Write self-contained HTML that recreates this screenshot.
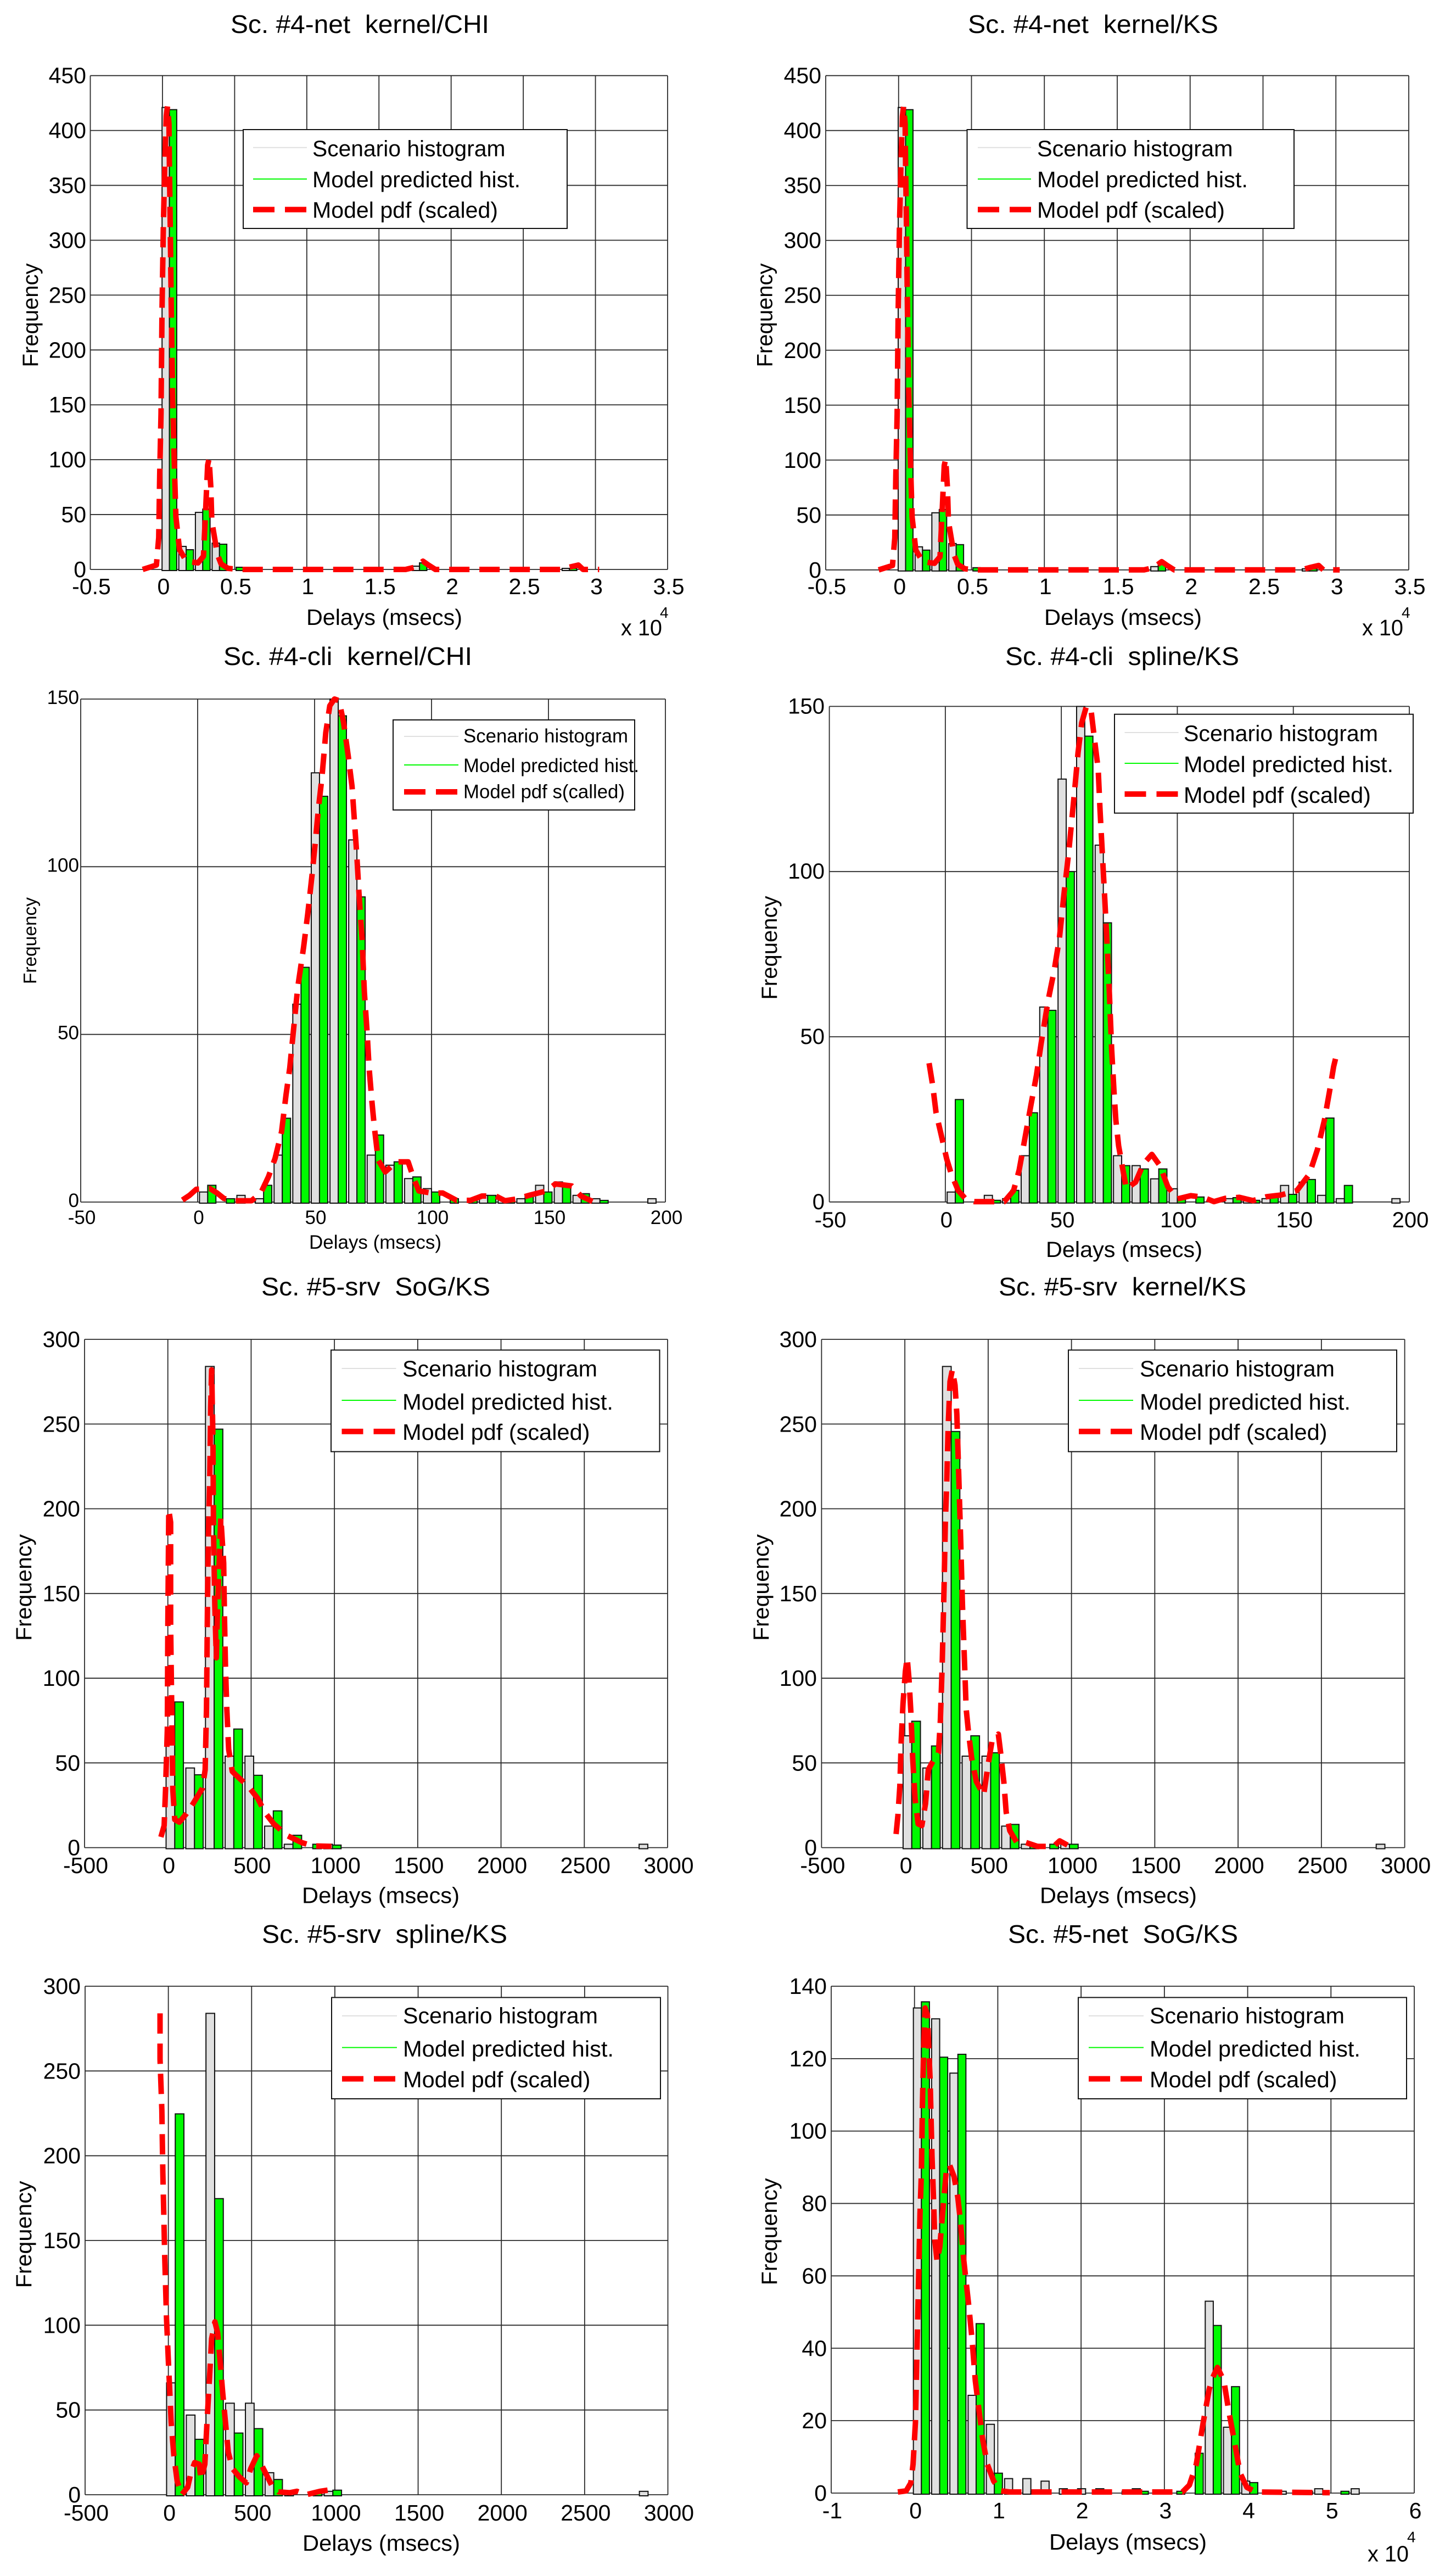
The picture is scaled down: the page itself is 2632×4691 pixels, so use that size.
<!DOCTYPE html>
<html lang="en">
<head>
<meta charset="utf-8">
<title>Delay histograms</title>
<style>
html,body{margin:0;padding:0;background:#fff}
svg{display:block}
text{font-family:"Liberation Sans",Arial,sans-serif;fill:#000;white-space:pre}
</style>
</head>
<body>
<svg id="figure" xmlns="http://www.w3.org/2000/svg" width="2632" height="4691" viewBox="0 0 2632 4691"></svg>
<script>
/* ---------- data: tick labels ---------- */
const xTicksA = [-0.5, 0, 0.5, 1, 1.5, 2, 2.5, 3, 3.5];
const yTicksA = [0, 50, 100, 150, 200, 250, 300, 350, 400, 450];
const xTicksB = [-50, 0, 50, 100, 150, 200];
const yTicksB = [0, 50, 100, 150];
const xTicksC = [-500, 0, 500, 1000, 1500, 2000, 2500, 3000];
const yTicksC = [0, 50, 100, 150, 200, 250, 300];
const xTicksD = [-1, 0, 1, 2, 3, 4, 5, 6];
const yTicksD = [0, 20, 40, 60, 80, 100, 120, 140];

/* ---------- data: panel 1 and 2, Sc. #4-net (x in units of 10^4 msecs) ---------- */
const p1Bins = [.048,.164,.279,.395,.51,.626,.741,.857,.972,1.088,1.203,1.319,1.434,1.55,1.665,1.781,1.896,2.012,2.127,2.243,2.358,2.474,2.589,2.705,2.82];
const p1Scenario = [421,21,52,24,0,0,0,0,0,0,0,0,0,0,0,3,0,0,0,0,0,0,0,0,1];
const p1Model = [419,18,55,23,2,0,0,0,0,0,0,0,0,0,0,6,0,0,0,0,0,0,0,0,1];
const p1PdfX = [-.137,-.089,-.042,-.026,-.019,-.01,-.003,.006,.016,.026,.035,.045,.048,.054,.061,.07,.08,.093,.118,.166,.246,.284,.297,.313,.323,.335,.342,.361,.38,.406,.454,.534,1.684,1.748,1.805,1.843,1.891,2.764,2.818,2.882,2.914,3.026];
const p1PdfY = [0,2,4,29,86,142,236,312,368,413,422,406,368,312,236,161,105,48,18,7.5,6,12,48,95,101,75,44,29,14,5,1,0,0,2,7.5,4,0,0,2,4,0,0];

const p2Bins = [.048,.164,.279,.395,.51,.626,.741,.857,.972,1.088,1.203,1.319,1.434,1.55,1.665,1.781,1.896,2.012,2.127,2.243,2.358,2.474,2.589,2.705,2.82];
const p2Scenario = [421,21,52,24,0,0,0,0,0,0,0,0,0,0,0,3,0,0,0,0,0,0,0,0,1];
const p2Model = [419,18,55,23,2,0,0,0,0,0,0,0,0,0,0,6,0,0,0,0,0,0,0,0,1];
const p2PdfX = [-.137,-.089,-.042,-.026,-.019,-.01,-.003,.006,.016,.026,.035,.045,.048,.054,.061,.07,.08,.093,.118,.166,.246,.284,.297,.313,.323,.335,.342,.361,.38,.406,.454,.534,1.684,1.748,1.805,1.843,1.891,2.764,2.818,2.882,2.914,3.026];
const p2PdfY = [0,2,4,29,86,142,236,312,368,413,422,406,368,312,236,161,105,48,18,7.5,6,12,48,95,101,75,44,29,14,5,1,0,0,2,7.5,4,0,0,2,4,0,0];

/* ---------- data: panel 3, Sc. #4-cli kernel/CHI ---------- */
const p3Bins = [4.3,12.3,20.3,28.2,36.2,44.2,52.1,60.1,68.1,76,84,92,100,108,116,124,132,140,148,156,164,172,180,188,196];
const p3Scenario = [3,0,2,1,14,59,128,150,108,14,11,7,4,0,0,2,1,1,5,6,2,1,0,0,1];
const p3Model = [5,1,0,5,25,70,121,145,91,20,12,7.5,3,1,.7,2,1,2,3,5,2.5,.5,0,0,0];
const p3PdfX = [-6.5,-3.5,-.6,5.3,8.3,11.2,15.2,23,27,30.3,33.1,35.9,37.8,39.4,40.8,42.8,45.3,47.1,49,50.4,51.6,53.2,54.8,56.5,58.5,60.5,62.4,64.4,66,67,68,69,70.3,71.3,72.5,73.3,74.5,75.6,77.2,80.2,85,90,92.4,94.6,99.9,104.8,110.7,116.6,121.6,127.5,131.4,136.3,142.2,149.1,153,160,163.9,168.8];
const p3PdfY = [.6,2,3.8,4,2.7,1.1,.4,.4,2.7,7.6,13,21,32,40,50,64,76,86,98,108,117,127,140,148,150,149.5,143,133,124,114,104,92,78.5,62.5,50,40,30,22,12.5,9,12,12,7,3.3,2.7,2.7,.5,.5,1.8,1.8,.4,.9,2.1,3.3,5.4,4.8,1.8,.2];

/* ---------- data: panel 4, Sc. #4-cli spline/KS ---------- */
const p4Bins = [4.3,12.3,20.3,28.2,36.2,44.2,52.1,60.1,68.1,76,84,92,100,108,116,124,132,140,148,156,164,172,180,188,196];
const p4Scenario = [3,0,2,1,14,59,128,150,108,14,11,7,4,0,0,1,1,1,5,6,2,1,0,0,1];
const p4Model = [31,0,.5,3.5,27,58,100,141,84.5,11,10,10,1.5,1.5,0,1.3,.5,2,2.3,6.8,25.4,5,0,0,0];
const p4PdfX = [-7,-5.4,-4,-2,.6,2.6,5.6,8.5,12.5,19.5,25.4,29.4,31.8,34.4,37,39.3,41.3,44.3,46.9,49.2,51.2,53.2,55.6,57.2,58.8,60.8,62.8,64.3,65.9,66.7,67.7,68.7,69.7,70.7,71.7,72.7,73.5,74.7,78,82,85.4,89,92.5,95.9,99.9,105.8,110.8,115.8,120.7,126.7,132.6,138.6,144.6,151.5,156.9,160.4,163.4,165.6,167.4,168.4];
const p4PdfY = [42,35,27,21,13,8.4,3.4,1.1,.1,.1,.1,3.4,9.6,19.6,29.7,38.4,48,61,70,80,93.5,106,123.5,136,145,150,149,140,131,118.5,105,92,78.5,63.5,46,33.4,24.7,17,4,6,11.5,14.4,11,4.6,.9,1.9,1.5,.1,1.1,1.4,.4,1.6,2.1,3.4,8.4,15.9,24.7,33.4,41,44];

/* ---------- data: panel 5, Sc. #5-srv SoG/KS ---------- */
const p5Bins = [41.5,160,278,396,515,633,751,870,988,1106,1225,1343,1461,1580,1698,1816,1935,2053,2171,2290,2408,2526,2644,2763,2881];
const p5Scenario = [66,47,284,54,54,12.7,2,0,2,0,0,0,0,0,0,0,0,0,0,0,0,0,0,0,2];
const p5Model = [86,43,247,70,42.7,21.7,7.3,2,1.5,0,0,0,0,0,0,0,0,0,0,0,0,0,0,0,0];
const p5PdfX = [-41.5,-22,-14,-3,0,5.5,16.6,16.6,25,30,41.5,69,111,152,207.5,224,232,238,243,252,257,263,271,274,282,291,299,310,318,335,340,346,354,365,387,407,484,540,581,636,719,802,871,982];
const p5PdfY = [6.3,13,34,70,131,199.5,192,131,70,34,16.6,15,20,26,35,46,82,143,180,221,260,282,241,187,143,112,143,173,195,168,136,107,82,58,45,43,36,29,21,14,7,3,1,.7];

/* ---------- data: panel 6, Sc. #5-srv kernel/KS ---------- */
const p6Bins = [41.5,160,278,396,515,633,751,870,988,1106,1225,1343,1461,1580,1698,1816,1935,2053,2171,2290,2408,2526,2644,2763,2881];
const p6Scenario = [66,47,284,54,54,12.7,2,0,2,0,0,0,0,0,0,0,0,0,0,0,0,0,0,0,2];
const p6Model = [74.6,60,245.6,66,56,13.7,2,2,2,0,0,0,0,0,0,0,0,0,0,0,0,0,0,0,0];
const p6PdfX = [-52.5,-41.5,-30,-22,-11,3,14,25,36,47,61,80,102,124,141,169,202,213,224,235,243,252,260,271,285,301,312,323,335,346,359,368,382,401,429,473,495,523,561,575,594,608,630,672,727,796,893,929,976];
const p6PdfY = [8,19,36,63,85,104,112,99.5,80,53,29,14,13,26,46,51,56,75,107,153,192,217,248,275,282,273,256,221,182,143,107,82,68,53,39,31,46,63,67,56,39,21,10,3,3,.7,.7,4,1.5];

/* ---------- data: panel 7, Sc. #5-srv spline/KS ---------- */
const p7Bins = [41.5,160,278,396,515,633,751,870,988,1106,1225,1343,1461,1580,1698,1816,1935,2053,2171,2290,2408,2526,2644,2763,2881];
const p7Scenario = [66,47,284,54,54,13,2,0,2,0,0,0,0,0,0,0,0,0,0,0,0,0,0,0,2];
const p7Model = [224.7,32.7,174.7,36.4,39,9,0,1.7,2.7,0,0,0,0,0,0,0,0,0,0,0,0,0,0,0,0];
const p7PdfX = [-50,-50,-39,-33,-22,-11,0,17,33,53,80,116,135.6,158,185,196,219,232,246,260,279.5,296,310,326.5,343,360,385,426,468,495,531,578,620,661,730,772,827,910,980];
const p7PdfY = [284,257,227,190,141,104,79.5,42.6,23,8,0,4.4,13,19,18,9,18,42.6,67,92,102,95.5,79.5,60,42.6,25,15.5,10.6,7,15.5,23,14,5.7,1.7,1.2,2,0,2,3];

/* ---------- data: panel 8, Sc. #5-net SoG/KS (x in units of 10^4 msecs) ---------- */
const p8Bins = [.083,.302,.521,.74,.959,1.178,1.397,1.616,1.835,2.054,2.273,2.492,2.711,2.93,3.149,3.37,3.587,3.806,4.025,4.244,4.463,4.682,4.901,5.12,5.339];
const p8Scenario = [134,131,116,27,19,4,4,3.3,1.2,1.2,1.2,0,1.2,0,0,0,53,18.2,3.3,0,.5,0,1.2,0,1.2];
const p8Model = [135.7,120.4,121.2,46.8,5.5,0,.5,0,.5,0,0,.5,.5,0,.5,11,46.3,29.4,2.9,.5,0,.5,0,.5,0];
const p8PdfX = [-.2,-.1,-.044,-.017,.011,.022,.033,.044,.055,.066,.083,.094,.11,.127,.155,.188,.21,.232,.243,.271,.304,.343,.381,.42,.475,.52,.553,.586,.619,.652,.691,.73,.774,.818,.873,.951,1.034,1.144,3.217,3.3,3.383,3.466,3.538,3.582,3.637,3.715,3.77,3.836,3.908,3.99,4.1,4.986];
const p8PdfY = [.3,.6,2.8,8,19.5,31,42.5,54,65.5,77,88.6,106,123,134,132,114,93,79,70,64,68,79,88.6,90.7,87.4,81.7,74.8,65.6,58.6,51.7,42.5,31,23,14.9,8,3.3,.6,.3,.3,2.2,8,19.5,28.7,32,34.7,31,23,14.9,5.6,1.6,.3,.1];

/* ---------- legend wording ---------- */
const legendStd = ['Scenario histogram', 'Model predicted hist.', 'Model pdf (scaled)'];
const legendCli = ['Scenario histogram', 'Model predicted hist.', 'Model pdf s(called)'];

/* ---------- layout (pixels), kept apart from the data ---------- */
const panels = [
 {id:'p1', title:'Sc. #4-net  kernel/CHI', bins:p1Bins, sc:p1Scenario, mo:p1Model, px:p1PdfX, py:p1PdfY, xt:xTicksA, yt:yTicksA,
  l:164.5, r:1216, t:137.7, b:1037, font:41, titleFont:46, titleX:420, titleW:471, titleY:60,
  xtY:1082, xtDx:2, ytX:157, ytDy:14, xl:[558,284,1138], yl:[69,574,189,40],
  legend:{x:443,y:236,w:590,h:180,tx:569,tw:[351.5,379,338],ty:[284.5,341,396.6],lx:[461,559],ly:[268.7,326,381.6],font:41,words:legendStd},
  exp:{x:1131,y:1157,w:75,ex:1202,ey:1125}},
 {id:'p2', title:'Sc. #4-net  kernel/KS', bins:p2Bins, sc:p2Scenario, mo:p2Model, px:p2PdfX, py:p2PdfY, xt:xTicksA, yt:yTicksA,
  l:1504, r:2566, t:137.7, b:1037.8, font:41, titleFont:46, titleX:1763, titleW:456, titleY:60,
  xtY:1082, xtDx:2, ytX:1496, ytDy:14, xl:[1902,287,1138], yl:[1406.6,574,189,40],
  legend:{x:1761.5,y:236,w:595.5,h:180,tx:1889,tw:[356.6,384,342],ty:[284.5,341,396.6],lx:[1781,1878],ly:[268.7,326,381.6],font:41,words:legendStd},
  exp:{x:2481,y:1157,w:75,ex:2553,ey:1125}},
 {id:'p3', title:'Sc. #4-cli  kernel/CHI', bins:p3Bins, sc:p3Scenario, mo:p3Model, px:p3PdfX, py:p3PdfY, xt:xTicksB, yt:yTicksB,
  l:147, r:1212, t:1273, b:2189, font:35, titleFont:46, titleX:407, titleW:453, titleY:1211,
  xtY:2229, xtDx:2, ytX:144, ytDy:9, xl:[563,241,2274], yl:[66,1713,158,33.5],
  legend:{x:716,y:1311,w:440,h:164,tx:844,tw:[300,320,294],ty:[1352,1406,1453.5],lx:[736,835],ly:[1341,1393,1442],font:35,words:legendCli}},
 {id:'p4', title:'Sc. #4-cli  spline/KS', bins:p4Bins, sc:p4Scenario, mo:p4Model, px:p4PdfX, py:p4PdfY, xt:xTicksB, yt:yTicksB,
  l:1510.6, r:2567, t:1286.4, b:2188.8, font:40, titleFont:46, titleX:1831, titleW:426, titleY:1211,
  xtY:2235, xtDx:2, ytX:1502, ytDy:13, xl:[1905,285,2289], yl:[1415,1726,189,40],
  legend:{x:2030,y:1300.7,w:544,h:180,tx:2156,tw:[354,382,341],ty:[1349.6,1406,1462],lx:[2048.5,2146.6],ly:[1334,1390,1446],font:41,words:legendStd}},
 {id:'p5', title:'Sc. #5-srv  SoG/KS', bins:p5Bins, sc:p5Scenario, mo:p5Model, px:p5PdfX, py:p5PdfY, xt:xTicksC, yt:yTicksC,
  l:154, r:1216, t:2439, b:3364.6, font:41, titleFont:46, titleX:476, titleW:417, titleY:2359,
  xtY:3411, xtDx:2, ytX:146, ytDy:14, xl:[550,287,3465.4], yl:[57,2891,194,40],
  legend:{x:603,y:2458.5,w:598.5,h:185,tx:733,tw:[355,384,341.5],ty:[2506.6,2567,2622],lx:[622.5,721.5],ly:[2492,2550,2606.7],font:41,words:legendStd}},
 {id:'p6', title:'Sc. #5-srv  kernel/KS', bins:p6Bins, sc:p6Scenario, mo:p6Model, px:p6PdfX, py:p6PdfY, xt:xTicksC, yt:yTicksC,
  l:1496.4, r:2558.6, t:2439, b:3364.6, font:41, titleFont:46, titleX:1819, titleW:451, titleY:2359,
  xtY:3411, xtDx:2, ytX:1488, ytDy:14, xl:[1894,286,3465.4], yl:[1400,2891,194,40],
  legend:{x:1946,y:2458.5,w:598,h:185,tx:2076,tw:[355,384,341.5],ty:[2506.6,2567,2622],lx:[1965,2064],ly:[2492,2550,2606.7],font:41,words:legendStd}},
 {id:'p7', title:'Sc. #5-srv  spline/KS', bins:p7Bins, sc:p7Scenario, mo:p7Model, px:p7PdfX, py:p7PdfY, xt:xTicksC, yt:yTicksC,
  l:155, r:1216.5, t:3617, b:4543, font:41, titleFont:46, titleX:477, titleW:447, titleY:3538,
  xtY:4590, xtDx:2, ytX:147, ytDy:14, xl:[551,287,4645], yl:[57,4069,195,40],
  legend:{x:604,y:3637.5,w:599,h:184.5,tx:734,tw:[355,384,341.5],ty:[3684.6,3745,3801],lx:[623,723],ly:[3671,3728.6,3785.6],font:41,words:legendStd}},
 {id:'p8', title:'Sc. #5-net  SoG/KS', bins:p8Bins, sc:p8Scenario, mo:p8Model, px:p8PdfX, py:p8PdfY, xt:xTicksD, yt:yTicksD,
  l:1514, r:2576, t:3617, b:4540, font:41, titleFont:46, titleX:1836, titleW:419, titleY:3538,
  xtY:4586, xtDx:2, ytX:1506, ytDy:14, xl:[1911,287,4643], yl:[1415,4064,195,40],
  legend:{x:1964,y:3637.5,w:598,h:184.5,tx:2094,tw:[355,384,341.5],ty:[3684.6,3745,3801],lx:[1983,2083],ly:[3671,3728.6,3785.6],font:41,words:legendStd},
  exp:{x:2491,y:4664.5,w:75,ex:2563,ey:4629.5}}
];

const NS = 'http://www.w3.org/2000/svg';
const figure = document.getElementById('figure');

function mk(tag, attrs, parent) {
  const node = document.createElementNS(NS, tag);
  for (const k in attrs) node.setAttribute(k, attrs[k]);
  parent.appendChild(node);
  return node;
}

function drawPanel(p) {
  const first = v => v[0], last = v => v[v.length - 1];
  const xMin = first(p.xt), xMax = last(p.xt), yMin = first(p.yt), yMax = last(p.yt);
  const X = v => p.l + (v - xMin) / (xMax - xMin) * (p.r - p.l);
  const Y = v => p.b - (v - yMin) / (yMax - yMin) * (p.b - p.t);

  const g = mk('g', {}, figure);
  
  

  const title = mk('text', {x:p.titleX, y:p.titleY, 'font-size':p.titleFont, textLength:p.titleW, lengthAdjust:'spacingAndGlyphs'}, g);
  title.textContent = p.title;
  
  

  p.yt.forEach(v => {
    const line = mk('line', {x1:p.l, x2:p.r, y1:Y(v), y2:Y(v), stroke:'#2a2a2a', 'stroke-width':1.8}, g);
    
    
    const label = mk('text', {x:p.ytX, y:Y(v) + p.ytDy, 'font-size':p.font, 'text-anchor':'end'}, g);
    label.textContent = String(v);
    
    
  });

  p.xt.forEach(v => {
    const line = mk('line', {x1:X(v), x2:X(v), y1:p.t, y2:p.b, stroke:'#2a2a2a', 'stroke-width':1.8}, g);
    
    
    const label = mk('text', {x:X(v) + p.xtDx, y:p.xtY, 'font-size':p.font, 'text-anchor':'middle'}, g);
    label.textContent = String(v);
    
    
  });

  const step = (p.bins[p.bins.length - 1] - p.bins[0]) / (p.bins.length - 1);
  const barW = X(xMin + step * 0.44) - X(xMin);
  p.bins.forEach((c, i) => {
    if (p.sc[i] > 0) {
      const bar = mk('rect', {x:X(c) - barW, y:Y(p.sc[i]), width:barW, height:Y(0) - Y(p.sc[i]) + 2, fill:'#e0e0e0', stroke:'#111', 'stroke-width':2}, g);
      
      
    }
    if (p.mo[i] > 0) {
      const bar = mk('rect', {x:X(c), y:Y(p.mo[i]), width:barW, height:Y(0) - Y(p.mo[i]) + 2, fill:'#00fa00', stroke:'#111', 'stroke-width':2}, g);
      
      
    }
  });

  const pts = p.px.map((v, i) => X(v).toFixed(1) + ',' + Y(p.py[i]).toFixed(1)).join(' ');
  const curve = mk('polyline', {points:pts, fill:'none', stroke:'#ff0000', 'stroke-width':10, 'stroke-dasharray':'37 18', 'stroke-linejoin':'round'}, g);
  
  

  const xl = mk('text', {x:p.xl[0], y:p.xl[2], 'font-size':p.font, textLength:p.xl[1], lengthAdjust:'spacingAndGlyphs'}, g);
  xl.textContent = 'Delays (msecs)';
  
  

  const yl = mk('text', {transform:'translate(' + p.yl[0] + ',' + (p.yl[1] + p.yl[2] / 2) + ') rotate(-90)', 'font-size':p.yl[3], textLength:p.yl[2], lengthAdjust:'spacingAndGlyphs'}, g);
  yl.textContent = 'Frequency';
  
  

  if (p.exp) {
    const mult = mk('text', {x:p.exp.x, y:p.exp.y, 'font-size':p.font, textLength:p.exp.w, lengthAdjust:'spacingAndGlyphs'}, g);
    mult.textContent = 'x 10';
    
    
    const pow = mk('text', {x:p.exp.ex, y:p.exp.ey, 'font-size':28}, g);
    pow.textContent = '4';
    
    
  }

  const L = p.legend;
  const lg = mk('g', {}, g);
  
  
  const box = mk('rect', {x:L.x, y:L.y, width:L.w, height:L.h, fill:'#fff', stroke:'#111', 'stroke-width':2}, lg);
  
  
  const swatchStyles = [
    {stroke:'#e0e0e0', 'stroke-width':2},
    {stroke:'#00fa00', 'stroke-width':2},
    {stroke:'#ff0000', 'stroke-width':10, 'stroke-dasharray':'39 19'}
  ];
  L.words.forEach((word, i) => {
    const sw = mk('line', Object.assign({x1:L.lx[0], x2:L.lx[1], y1:L.ly[i], y2:L.ly[i]}, swatchStyles[i]), lg);
    
    
    const tx = mk('text', {x:L.tx, y:L.ty[i], 'font-size':L.font, textLength:L.tw[i], lengthAdjust:'spacingAndGlyphs'}, lg);
    tx.textContent = word;
    
    
  });
}

panels.forEach(drawPanel);
</script>
</body>
</html>
